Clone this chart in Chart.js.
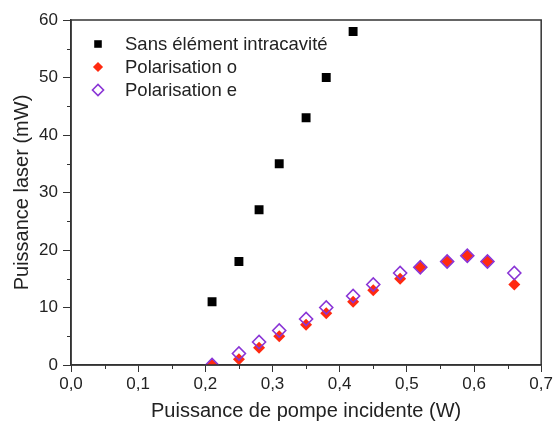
<!DOCTYPE html>
<html>
<head>
<meta charset="utf-8">
<script src="https://cdn.jsdelivr.net/npm/chart.js@4.4.1/dist/chart.umd.min.js"></script>
<style>
  html, body { margin: 0; padding: 0; background: #fff; }
  #wrap { width: 555px; height: 428px; }
</style>
</head>
<body>
<div id="wrap"><canvas id="chart"></canvas></div>
<script>
// Données
const pompeSans = [0.21, 0.25, 0.28, 0.31, 0.35, 0.38, 0.42];
const laserSans = [11, 18, 27, 35, 43, 50, 58];

const pompePol = [0.21, 0.25, 0.28, 0.31, 0.35, 0.38, 0.42, 0.45, 0.49, 0.52, 0.56, 0.59, 0.62, 0.66];
const laserO = [0, 1, 3, 5, 7, 9, 11, 13, 15, 17, 18, 19, 18, 14];
const laserE = [0, 2, 4, 6, 8, 10, 12, 14, 16, 17, 18, 19, 18, 16];

const labels = ['Sans élément intracavité', 'Polarisation o', 'Polarisation e'];

const axisColor = '#333';
const textColor = '#222';
const font = 'Liberation Sans, Arial, sans-serif';

function pts(xs, ys) {
    return xs.map((x, i) => ({ x: x, y: ys[i] }));
}

const isMajorX = v => Math.round(v * 100) % 10 === 0;
const isMajorY = v => Math.round(v) % 10 === 0;

// cadre, petites graduations + légende dans la zone du graphe
const framePlugin = {
    id: 'frame',
    afterDraw(chart) {
        const a = chart.chartArea;
        const ctx = chart.ctx;
        ctx.save();
        ctx.strokeStyle = axisColor;
        ctx.lineWidth = 1.5;
        ctx.strokeRect(a.left, a.top, a.right - a.left, a.bottom - a.top);

        // graduations secondaires (plus courtes)
        ctx.lineWidth = 1;
        ctx.beginPath();
        chart.scales.x.ticks.forEach(t => {
            if (isMajorX(t.value)) return;
            const px = Math.round(chart.scales.x.getPixelForValue(t.value)) + 0.5;
            ctx.moveTo(px, a.bottom);
            ctx.lineTo(px, a.bottom + 4);
        });
        chart.scales.y.ticks.forEach(t => {
            if (isMajorY(t.value)) return;
            const py = Math.round(chart.scales.y.getPixelForValue(t.value)) + 0.5;
            ctx.moveTo(a.left, py);
            ctx.lineTo(a.left - 4, py);
        });
        ctx.stroke();

        // ordre de la légende : sans, o, e
        labels.forEach((lab, row) => {
            const ds = chart.data.datasets.find(d => d.label === lab);
            const y = a.top + 24 + row * 23;
            const x = a.left + 27;
            ctx.fillStyle = ds.backgroundColor;
            ctx.strokeStyle = ds.borderColor;
            ctx.lineWidth = ds.borderWidth;
            Chart.helpers.drawPoint(ctx, {
                pointStyle: ds.pointStyle,
                radius: ds.pointRadius * 0.85,
                borderWidth: ds.borderWidth,
            }, x, y);
            ctx.fillStyle = textColor;
            ctx.font = '18.5px ' + font;
            ctx.textBaseline = 'middle';
            ctx.textAlign = 'left';
            ctx.fillText(ds.label, a.left + 54, y + 1);
        });
        ctx.restore();
    }
};

new Chart(document.getElementById('chart'), {
    type: 'scatter',
    data: {
        datasets: [
            {
                label: labels[2],
                data: pts(pompePol, laserE),
                pointStyle: 'rectRot',
                pointRadius: 6.5,
                backgroundColor: 'rgba(0,0,0,0)',
                borderColor: '#8a35d6',
                borderWidth: 1.6,
                order: 0,
            },
            {
                label: labels[0],
                data: pts(pompeSans, laserSans),
                pointStyle: 'rect',
                pointRadius: 6.3,
                backgroundColor: '#000',
                borderColor: '#000',
                borderWidth: 0,
                order: 2,
            },
            {
                label: labels[1],
                data: pts(pompePol, laserO),
                pointStyle: 'rectRot',
                pointRadius: 6,
                backgroundColor: '#ff2a10',
                borderColor: '#ff2a10',
                borderWidth: 0,
                order: 1,
            },
        ],
    },
    options: {
        responsive: true,
        maintainAspectRatio: false,
        animation: false,
        layout: { padding: { top: 20, right: 13, left: 0, bottom: 0 } },
        plugins: {
            legend: { display: false },
            tooltip: { enabled: false },
        },
        scales: {
            x: {
                type: 'linear',
                min: 0,
                max: 0.7,
                afterFit: s => { s.height = 63; },
                border: { display: true, color: axisColor, width: 1.5 },
                grid: {
                    drawOnChartArea: false,
                    drawTicks: true,
                    tickLength: 7,
                    tickWidth: 1,
                    tickColor: c => isMajorX(c.tick.value) ? axisColor : 'rgba(0,0,0,0)',
                },
                ticks: {
                    stepSize: 0.05,
                    color: textColor,
                    font: { family: font, size: 17 },
                    padding: 2,
                    maxRotation: 0,
                    autoSkip: false,
                    callback: v => isMajorX(v) ? v.toFixed(1).replace('.', ',') : '',
                },
                title: {
                    display: true,
                    text: 'Puissance de pompe incidente (W)',
                    color: textColor,
                    font: { family: font, size: 20 },
                    padding: { top: 0, bottom: 5 },
                },
            },
            y: {
                type: 'linear',
                min: 0,
                max: 60,
                afterFit: s => { s.width = 71; },
                border: { display: true, color: axisColor, width: 1.5 },
                grid: {
                    drawOnChartArea: false,
                    drawTicks: true,
                    tickLength: 8,
                    tickWidth: 1,
                    tickColor: c => isMajorY(c.tick.value) ? axisColor : 'rgba(0,0,0,0)',
                },
                ticks: {
                    stepSize: 5,
                    color: textColor,
                    font: { family: font, size: 17 },
                    padding: 5,
                    autoSkip: false,
                    callback: v => isMajorY(v) ? String(v) : '',
                },
                title: {
                    display: true,
                    text: 'Puissance laser (mW)',
                    color: textColor,
                    font: { family: font, size: 20 },
                    padding: { top: 10, bottom: 0 },
                },
            },
        },
    },
    plugins: [framePlugin],
});
</script>
</body>
</html>
